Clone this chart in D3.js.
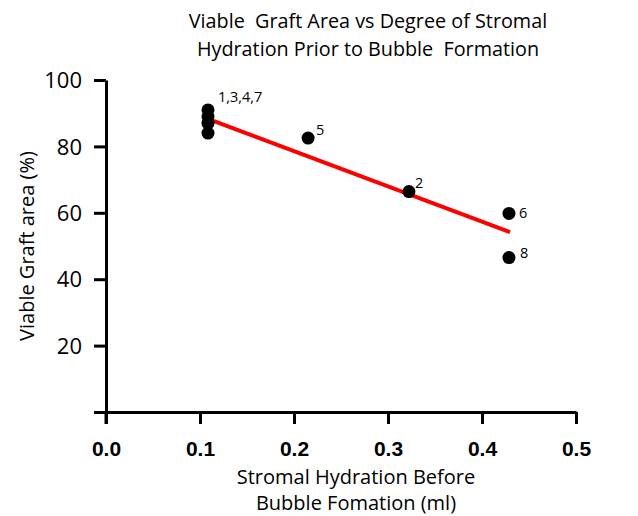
<!DOCTYPE html>
<html><head><meta charset="utf-8">
<script src="https://cdn.jsdelivr.net/npm/d3@7"></script>
<style>body{margin:0;background:#fff}svg{display:block}</style>
</head><body>
<svg id="c" width="638" height="516"></svg>
<script>
// Data (x in axis units, y in %)
const pointIds = ["1","3","4","7","5","2","6","8"];
const xValues  = [0.1085, 0.1085, 0.1085, 0.1085, 0.215, 0.3223, 0.4287, 0.4287];
const yValues  = [91, 89, 87, 84, 82.5, 66.4, 59.8, 46.5];
const labelTexts = ["1,3,4,7", "5", "2", "6", "8"];
const labelAnchorX = [0.1085, 0.215, 0.3223, 0.4287, 0.4287];
const labelAnchorY = [91, 82.5, 66.4, 59.8, 46.5];
const fitX = [0.1085, 0.4298];
const fitY = [88.3, 54.2];
const xTicks = [0, 0.1, 0.2, 0.3, 0.4, 0.5];
const yTicks = [0, 20, 40, 60, 80, 100];
const titleLines = ["Viable  Graft Area vs Degree of Stromal", "Hydration Prior to Bubble  Formation"];
const xTitleLines = ["Stromal Hydration Before", "Bubble Fomation (ml)"];
const yTitle = "Viable Graft area (%)";

// label nudges (px) — styling, not data
const labelDx = [10, 8, 6, 10, 11];
const labelDy = [-8, -3, -4, 5, 0];

const svg = d3.select("#c");
const font = "'Open Sans', sans-serif";
const x = d3.scaleLinear().domain([0, 0.5]).range([106, 576]);
const y = d3.scaleLinear().domain([0, 100]).range([412, 80]);

// Axes
const gx = svg.append("g").attr("transform", "translate(0,412)")
  .call(d3.axisBottom(x).tickValues(xTicks).tickSize(12).tickSizeOuter(0).tickFormat(d3.format(".1f")));
gx.selectAll("text").attr("dy", null).attr("y", 44)
  .style("font-family", "'Liberation Sans', Arial, sans-serif").style("font-weight", "bold").style("font-size", "21px").attr("fill", "#000");

const gy = svg.append("g").attr("transform", "translate(106,0)")
  .call(d3.axisLeft(y).tickValues(yTicks).tickSize(12).tickSizeOuter(0).tickFormat(d => d === 0 ? "" : d));
gy.selectAll("text").attr("x", -24).attr("dy", "0.35em")
  .style("font-family", font).style("font-size", "22px").attr("fill", "#000");

[gx, gy].forEach(g => {
  g.selectAll("path.domain").attr("stroke", "#000").attr("stroke-width", 3);
  g.selectAll(".tick line").attr("stroke", "#000").attr("stroke-width", 3);
});
// extend y axis line down to the bottom of the origin tick
svg.append("line").attr("x1", x(0)).attr("x2", x(0)).attr("y1", y(0)).attr("y2", y(0) + 12)
  .attr("stroke", "#000").attr("stroke-width", 3);

// Fit line
svg.append("line")
  .attr("x1", x(fitX[0])).attr("y1", y(fitY[0]))
  .attr("x2", x(fitX[1])).attr("y2", y(fitY[1]))
  .attr("stroke", "#ff0000").attr("stroke-width", 4);

// Points
svg.append("g").selectAll("circle").data(pointIds).join("circle")
  .attr("cx", (d, i) => x(xValues[i])).attr("cy", (d, i) => y(yValues[i]))
  .attr("r", 6.5).attr("fill", "#000");

// Point labels
svg.append("g").selectAll("text").data(labelTexts).join("text")
  .attr("x", (d, i) => x(labelAnchorX[i]) + labelDx[i])
  .attr("y", (d, i) => y(labelAnchorY[i]) + labelDy[i])
  .style("font-family", font).style("font-size", "14.5px").attr("fill", "#000")
  .text(d => d);

// Titles
svg.append("text").attr("x", 368).attr("y", 28).attr("text-anchor", "middle")
  .style("font-family", font).style("font-size", "19.8px").style("white-space", "pre").attr("xml:space", "preserve")
  .selectAll("tspan").data(titleLines).join("tspan")
  .attr("x", 368).attr("dy", (d, i) => i === 0 ? 0 : 28).text(d => d);

svg.append("text").attr("x", 356).attr("y", 484).attr("text-anchor", "middle")
  .style("font-family", font).style("font-size", "20px")
  .selectAll("tspan").data(xTitleLines).join("tspan")
  .attr("x", 356).attr("dy", (d, i) => i === 0 ? 0 : 26).text(d => d);

svg.append("text").attr("transform", "translate(34,246) rotate(-90)").attr("text-anchor", "middle")
  .style("font-family", font).style("font-size", "20px").attr("fill", "#000").text(yTitle);
</script>
</body></html>
